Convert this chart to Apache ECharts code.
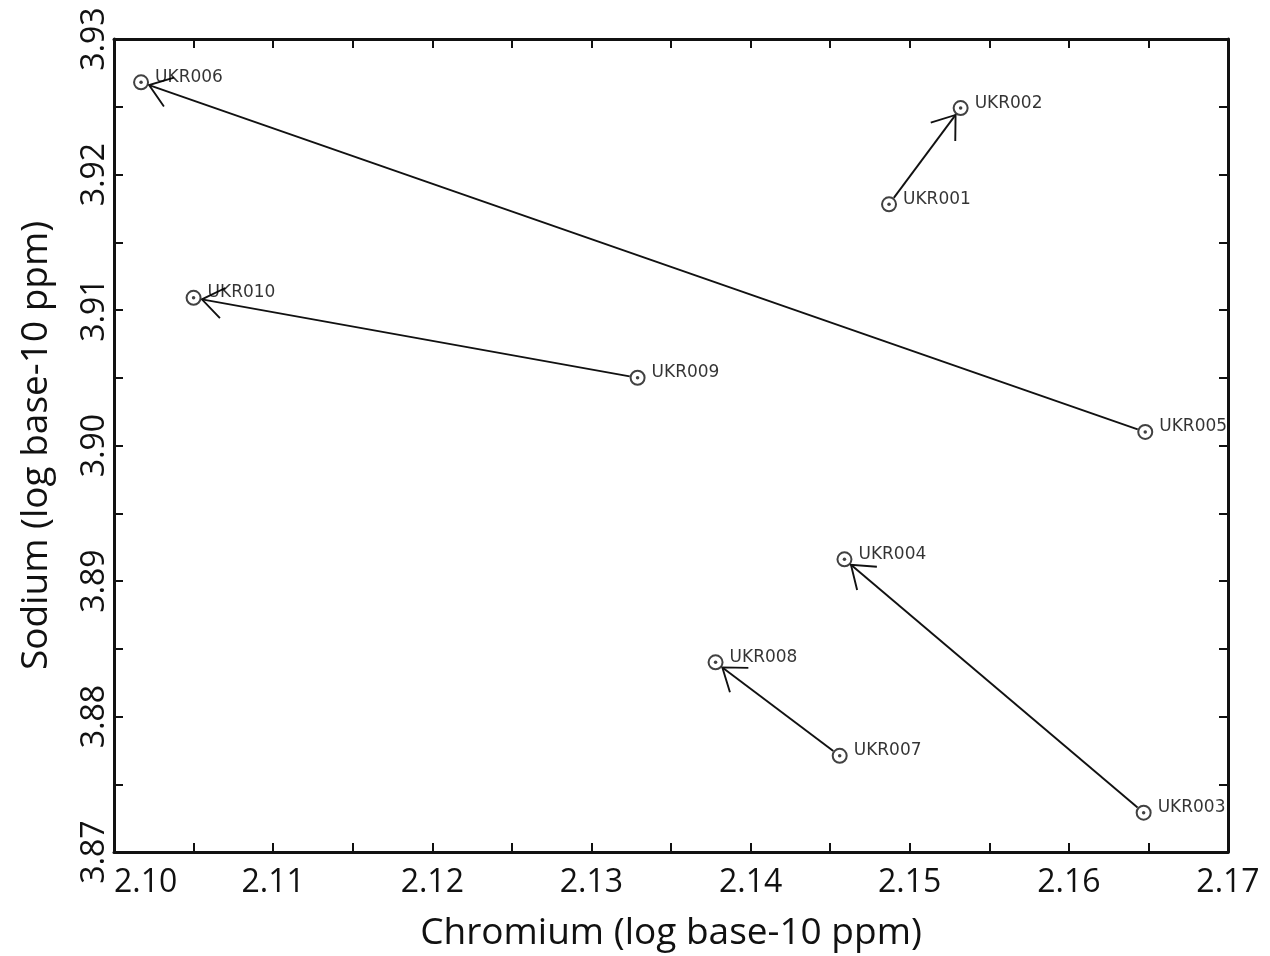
<!DOCTYPE html>
<html>
<head>
<meta charset="utf-8">
<script src="https://cdn.jsdelivr.net/npm/echarts@6/dist/echarts.min.js"></script>
<style>
  html, body { margin: 0; padding: 0; background: #ffffff; }
  #chart { width: 1270px; height: 956px; }
</style>
</head>
<body>
<div id="chart"></div>
<script>
// ---- Data ----
const sampleNames = ['UKR001','UKR002','UKR003','UKR004','UKR005','UKR006','UKR007','UKR008','UKR009','UKR010'];
const chromium    = [2.1487, 2.1532, 2.1647, 2.1459, 2.1648, 2.1017, 2.1456, 2.1378, 2.1329, 2.1050];
const sodium      = [3.9178, 3.9249, 3.8729, 3.8916, 3.9010, 3.9268, 3.8771, 3.8840, 3.9050, 3.9109];
const arrowFrom   = ['UKR001','UKR003','UKR005','UKR007','UKR009'];
const arrowTo     = ['UKR002','UKR004','UKR006','UKR008','UKR010'];
const xTickLabels = ['2.10','2.11','2.12','2.13','2.14','2.15','2.16','2.17'];
const yTickLabels = ['3.87','3.88','3.89','3.90','3.91','3.92','3.93'];

const pointData = sampleNames.map((n, i) => ({ name: n, value: [chromium[i], sodium[i]] }));
const arrowData = arrowFrom.map((f, i) => {
  const a = sampleNames.indexOf(f), b = sampleNames.indexOf(arrowTo[i]);
  return [chromium[a], sodium[a], chromium[b], sodium[b]];
});

const INK = '#111111';
const labelFont = 'Open Sans';

function fmt(list) {
  return function (v) {
    const s = v.toFixed(3);
    if (s.endsWith('0')) {
      const t = v.toFixed(2);
      return list.indexOf(t) >= 0 ? t : '';
    }
    return '';
  };
}

const chart = echarts.init(document.getElementById('chart'), null, { renderer: 'canvas' });

const baseAxisLine = { show: true, onZero: false, lineStyle: { color: INK, width: 3 } };
const baseTick = { show: true, inside: true, length: 9, lineStyle: { color: INK, width: 2 } };

chart.setOption({
  backgroundColor: '#ffffff',
  animation: false,
  grid: { left: 114, top: 39, right: 42, bottom: 104, containLabel: false, outerBoundsMode: 'none' },
  xAxis: [
    {
      type: 'value', position: 'bottom', min: 2.10, max: 2.17, interval: 0.005,
      axisLine: baseAxisLine, axisTick: baseTick, splitLine: { show: false },
      axisLabel: {
        show: true, formatter: fmt(xTickLabels), margin: 15,
        fontFamily: labelFont, fontSize: 32, color: INK,
        showMinLabel: true, showMaxLabel: true, alignMinLabel: 'left'
      },
      name: 'Chromium (log base-10 ppm)', nameLocation: 'middle', nameGap: 63,
      nameMoveOverlap: false,
      nameTextStyle: { fontFamily: labelFont, fontSize: 37, color: INK }
    },
    {
      type: 'value', position: 'top', min: 2.10, max: 2.17, interval: 0.005,
      axisLine: baseAxisLine, axisTick: baseTick, splitLine: { show: false },
      axisLabel: { show: false }
    }
  ],
  yAxis: [
    {
      type: 'value', position: 'left', min: 3.87, max: 3.93, interval: 0.005,
      axisLine: baseAxisLine, axisTick: baseTick, splitLine: { show: false },
      axisLabel: {
        show: true, formatter: fmt(yTickLabels), margin: 3, rotate: 90,
        fontFamily: labelFont, fontSize: 32, color: INK,
        showMinLabel: true, showMaxLabel: true
      },
      name: 'Sodium (log base-10 ppm)', nameLocation: 'middle', nameGap: 59, nameRotate: 90,
      nameMoveOverlap: false,
      nameTextStyle: { fontFamily: labelFont, fontSize: 37, color: INK }
    },
    {
      type: 'value', position: 'right', min: 3.87, max: 3.93, interval: 0.005,
      axisLine: baseAxisLine, axisTick: baseTick, splitLine: { show: false },
      axisLabel: { show: false }
    }
  ],
  series: [
    {
      type: 'custom',
      name: 'arrows',
      coordinateSystem: 'cartesian2d',
      xAxisIndex: 0, yAxisIndex: 0,
      silent: true,
      data: arrowData,
      renderItem: function (params, api) {
        const p1 = api.coord([api.value(0), api.value(1)]);
        const p2 = api.coord([api.value(2), api.value(3)]);
        const dx = p2[0] - p1[0], dy = p2[1] - p1[1];
        const len = Math.sqrt(dx * dx + dy * dy);
        const ux = dx / len, uy = dy / len;
        const s = [p1[0] + ux * 8, p1[1] + uy * 8];
        const t = [p2[0] - ux * 8.5, p2[1] - uy * 8.5];
        const bx = -ux, by = -uy;
        const ang = 36 * Math.PI / 180, arm = 26;
        function rot(a) {
          return [t[0] + arm * (bx * Math.cos(a) - by * Math.sin(a)),
                  t[1] + arm * (bx * Math.sin(a) + by * Math.cos(a))];
        }
        const style = { stroke: INK, lineWidth: 1.9, fill: null };
        return {
          type: 'group',
          children: [
            { type: 'polyline', shape: { points: [s, t] }, style: style },
            { type: 'polyline', shape: { points: [rot(ang), t, rot(-ang)] }, style: style }
          ]
        };
      },
      z: 2
    },
    {
      type: 'scatter',
      name: 'samples',
      data: pointData,
      symbol: 'circle',
      symbolSize: 14,
      itemStyle: { color: 'rgba(255,255,255,0)', borderColor: INK, borderWidth: 2 },
      label: {
        show: true, position: 'right', distance: 6, offset: [0, -5],
        formatter: '{b}', fontFamily: 'DejaVu Sans', fontSize: 17, color: '#000000'
      },
      emphasis: { disabled: true },
      z: 3
    },
    {
      type: 'scatter',
      name: 'centres',
      data: pointData,
      symbol: 'circle',
      symbolSize: 3.5,
      itemStyle: { color: INK },
      silent: true,
      z: 4
    }
  ]
});
</script>
</body>
</html>
